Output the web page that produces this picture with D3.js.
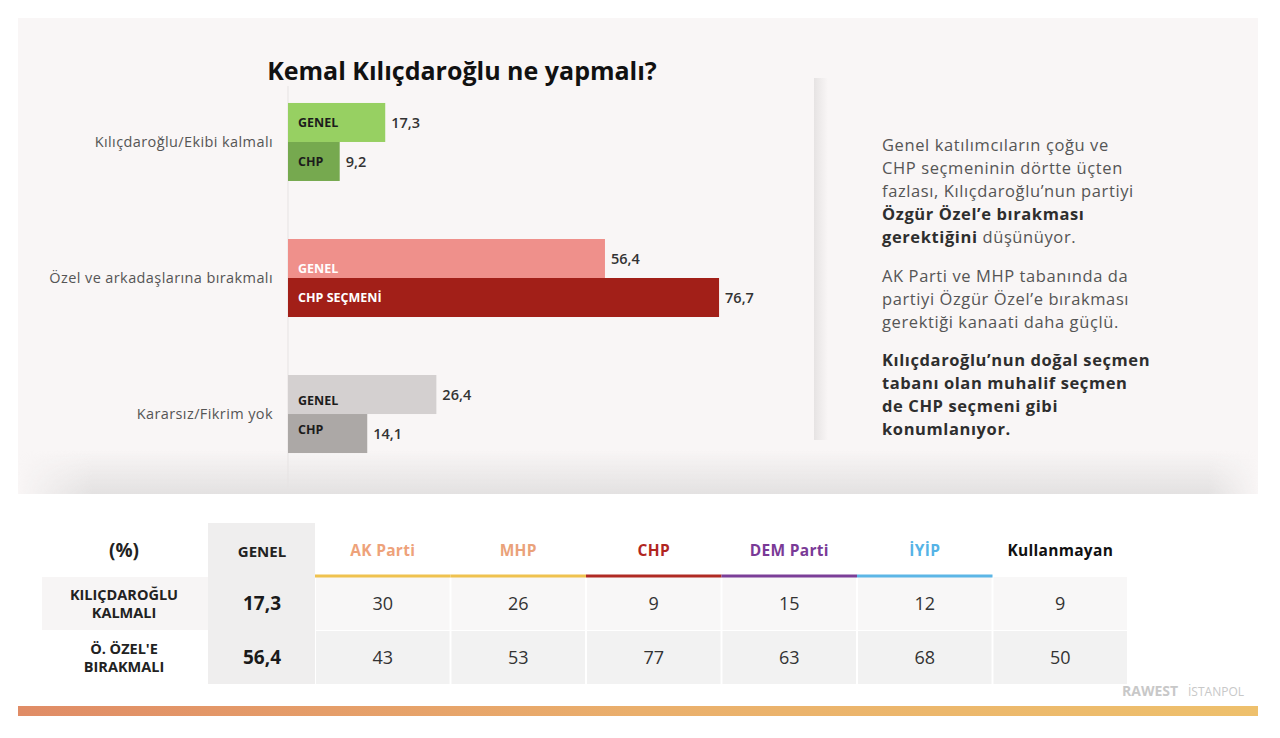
<!DOCTYPE html>
<html>
<head>
    <meta charset="utf-8">
    <title>Kemal Kılıçdaroğlu ne yapmalı?</title>
    <script src="https://d3js.org/d3.v7.min.js"></script>
    <style>
        body { margin: 0; background: #ffffff; }
        svg { display: block; font-family: "Open Sans", "Lato", sans-serif; }
    </style>
</head>
<body>
    <svg width="1280" height="738"></svg>
    <script>
        // bar chart data
        const categories = ["Kılıçdaroğlu/Ekibi kalmalı", "Özel ve arkadaşlarına bırakmalı", "Kararsız/Fikrim yok"];
        const genelValues = [17.3, 56.4, 26.4];
        const chpValues = [9.2, 76.7, 14.1];
        const chpLabels = ["CHP", "CHP SEÇMENİ", "CHP"];

        // table data
        const parties = ["AK Parti", "MHP", "CHP", "DEM Parti", "İYİP", "Kullanmayan"];
        const rowLabels = [["KILIÇDAROĞLU", "KALMALI"], ["Ö. ÖZEL'E", "BIRAKMALI"]];
        const genelColumn = [17.3, 56.4];
        const kalmaliValues = [30, 26, 9, 15, 12, 9];
        const birakmaliValues = [43, 53, 77, 63, 68, 50];

        const fmt = v => String(v).replace(".", ",");

        const svg = d3.select("svg");
        const defs = svg.append("defs");

        // panel background + soft shadows
        svg.append("rect")
            .attr("x", 18).attr("y", 18)
            .attr("width", 1240).attr("height", 476)
            .attr("fill", "#f9f6f6");

        const bottomShade = defs.append("linearGradient")
            .attr("id", "bottomShade").attr("x1", 0).attr("y1", 0).attr("x2", 0).attr("y2", 1);
        bottomShade.append("stop").attr("offset", 0).attr("stop-color", "#e3e1e1").attr("stop-opacity", 0);
        bottomShade.append("stop").attr("offset", 1).attr("stop-color", "#e3e1e1").attr("stop-opacity", 1);
        const edgeFade = defs.append("linearGradient").attr("id", "edgeFade");
        edgeFade.append("stop").attr("offset", 0).attr("stop-color", "#fff").attr("stop-opacity", 0);
        edgeFade.append("stop").attr("offset", 0.06).attr("stop-color", "#fff").attr("stop-opacity", 1);
        edgeFade.append("stop").attr("offset", 0.96).attr("stop-color", "#fff").attr("stop-opacity", 1);
        edgeFade.append("stop").attr("offset", 1).attr("stop-color", "#fff").attr("stop-opacity", 0);
        defs.append("mask").attr("id", "edgeMask")
            .append("rect")
            .attr("x", 18).attr("y", 440).attr("width", 1240).attr("height", 60)
            .attr("fill", "url(#edgeFade)");
        svg.append("rect")
            .attr("x", 18).attr("y", 450)
            .attr("width", 1240).attr("height", 44)
            .attr("fill", "url(#bottomShade)")
            .attr("mask", "url(#edgeMask)");

        const sideShade = defs.append("linearGradient")
            .attr("id", "sideShade").attr("x1", 0).attr("y1", 0).attr("x2", 1).attr("y2", 0);
        sideShade.append("stop").attr("offset", 0).attr("stop-color", "#e6e3e3").attr("stop-opacity", 1);
        sideShade.append("stop").attr("offset", 1).attr("stop-color", "#e6e3e3").attr("stop-opacity", 0);
        svg.append("rect")
            .attr("x", 814).attr("y", 78)
            .attr("width", 14).attr("height", 362)
            .attr("fill", "url(#sideShade)");

        // title
        svg.append("text")
            .attr("x", 462).attr("y", 80)
            .attr("text-anchor", "middle")
            .attr("font-size", 25).attr("font-weight", 700)
            .attr("fill", "#111")
            .text("Kemal Kılıçdaroğlu ne yapmalı?");

        // scales
        const x = d3.scaleLinear().domain([0, 80]).range([288, 288 + 80 * 5.62]);
        const y = d3.scaleBand().domain(categories).range([74, 482])
            .paddingInner(0.4265).paddingOuter(0.213);
        const sub = d3.scaleBand().domain(["genel", "chp"]).range([0, y.bandwidth()]);

        const genelColors = ["#97d062", "#ef908b", "#d4d0d0"];
        const chpColors = ["#76a94f", "#a21f18", "#aca8a6"];
        const innerColors = ["#1c1c1c", "#ffffff", "#1c1c1c"];
        // where the small label sits inside each bar (shift from bar centre)
        const labelShift = [[0, 0], [10, 0], [6, -4]];

        // baseline
        svg.append("line")
            .attr("x1", x(0)).attr("x2", x(0))
            .attr("y1", 86).attr("y2", 490)
            .attr("stroke", "#e6e3e3").attr("stroke-width", 1);

        const rows = categories.map((c, i) => ({
            cat: c,
            bars: [
                { key: "genel", value: genelValues[i], color: genelColors[i], label: "GENEL", txt: innerColors[i], shift: labelShift[i][0] },
                { key: "chp", value: chpValues[i], color: chpColors[i], label: chpLabels[i], txt: innerColors[i], shift: labelShift[i][1] }
            ]
        }));

        const group = svg.selectAll(".grp").data(rows).join("g")
            .attr("class", "grp")
            .attr("transform", d => `translate(0,${y(d.cat)})`);

        group.append("text")
            .attr("x", 273)
            .attr("y", y.bandwidth() / 2)
            .attr("dy", "0.35em")
            .attr("text-anchor", "end")
            .attr("font-size", 14.5)
            .style("letter-spacing", "0.4px")
            .attr("fill", "#555")
            .text(d => d.cat);

        const bar = group.selectAll(".bar").data(d => d.bars).join("g").attr("class", "bar");

        bar.append("rect")
            .attr("x", x(0))
            .attr("y", d => sub(d.key))
            .attr("width", d => x(d.value) - x(0))
            .attr("height", sub.bandwidth())
            .attr("fill", d => d.color);

        bar.append("text")
            .attr("x", x(0) + 10)
            .attr("y", d => sub(d.key) + sub.bandwidth() / 2 + d.shift)
            .attr("dy", "0.35em")
            .attr("font-size", 12.5).attr("font-weight", 700)
            .attr("fill", d => d.txt)
            .text(d => d.label);

        bar.append("text")
            .attr("x", d => x(d.value) + 6)
            .attr("y", d => sub(d.key) + sub.bandwidth() / 2)
            .attr("dy", "0.35em")
            .attr("font-size", 14.5).attr("font-weight", 600)
            .attr("fill", "#333")
            .text(d => fmt(d.value));

        // commentary
        const notes = [
            { y: 151, parts: [["Genel katılımcıların çoğu ve", 400]] },
            { y: 174, parts: [["CHP seçmeninin dörtte üçten", 400]] },
            { y: 197, parts: [["fazlası, Kılıçdaroğlu’nun partiyi", 400]] },
            { y: 220, parts: [["Özgür Özel’e bırakması", 700]] },
            { y: 243, parts: [["gerektiğini", 700], [" düşünüyor.", 400]] },
            { y: 282, parts: [["AK Parti ve MHP tabanında da", 400]] },
            { y: 305, parts: [["partiyi Özgür Özel’e bırakması", 400]] },
            { y: 328, parts: [["gerektiği kanaati daha güçlü.", 400]] },
            { y: 366, parts: [["Kılıçdaroğlu’nun doğal seçmen", 700]] },
            { y: 389, parts: [["tabanı olan muhalif seçmen", 700]] },
            { y: 412, parts: [["de CHP seçmeni gibi", 700]] },
            { y: 435, parts: [["konumlanıyor.", 700]] }
        ];
        const noteText = svg.selectAll(".note").data(notes).join("text")
            .attr("class", "note")
            .attr("x", 882).attr("y", d => d.y)
            .attr("font-size", 16.5)
            .style("letter-spacing", "0.6px")
            .attr("fill", "#3a3a3a");
        noteText.selectAll("tspan").data(d => d.parts).join("tspan")
            .attr("font-weight", d => d[1])
            .attr("fill", d => d[1] === 700 ? "#2e2e2e" : "#555")
            .text(d => d[0]);

        // table
        const col = d3.scaleBand().domain(parties).range([315, 1128]);
        const partyColors = ["#eea27a", "#eaa27a", "#b1261f", "#7a3a97", "#55b3e6", "#111111"];
        const lineColors = ["#efc24f", "#efc24f", "#b02a24", "#7b3f98", "#5cb6e6", null];
        const rowY = [577, 631];
        const rowH = 53;

        // GENEL column background
        svg.append("rect")
            .attr("x", 208).attr("y", 523)
            .attr("width", 107).attr("height", 161)
            .attr("fill", "#efeeee");

        // row label backgrounds
        svg.append("rect")
            .attr("x", 42).attr("y", rowY[0])
            .attr("width", 166).attr("height", rowH)
            .attr("fill", "#f7f5f5");

        // data cell backgrounds
        [kalmaliValues, birakmaliValues].forEach((vals, r) => {
            svg.selectAll(".cell" + r).data(parties).join("rect")
                .attr("class", "cell" + r)
                .attr("x", d => col(d) + 1)
                .attr("y", rowY[r])
                .attr("width", col.bandwidth() - 2)
                .attr("height", rowH)
                .attr("fill", r === 0 ? "#f8f7f7" : "#f2f2f2");
        });

        svg.append("text")
            .attr("x", 124).attr("y", 557)
            .attr("text-anchor", "middle")
            .attr("font-size", 19).attr("font-weight", 700)
            .attr("fill", "#222")
            .text("(%)");

        svg.append("text")
            .attr("x", 262).attr("y", 557)
            .attr("text-anchor", "middle")
            .attr("font-size", 15).attr("font-weight", 700)
            .attr("fill", "#222")
            .text("GENEL");

        svg.selectAll(".phead").data(parties).join("text")
            .attr("class", "phead")
            .attr("x", d => col(d) + col.bandwidth() / 2)
            .attr("y", 556)
            .attr("text-anchor", "middle")
            .attr("font-size", 15.5).attr("font-weight", 700)
            .style("letter-spacing", "0.3px")
            .attr("fill", (d, i) => partyColors[i])
            .text(d => d);

        svg.selectAll(".pline").data(parties.filter((d, i) => lineColors[i])).join("line")
            .attr("class", "pline")
            .attr("x1", d => col(d)).attr("x2", d => col(d) + col.bandwidth())
            .attr("y1", 576).attr("y2", 576)
            .attr("stroke", d => lineColors[parties.indexOf(d)])
            .attr("stroke-width", 3);

        rowLabels.forEach((lines, r) => {
            const t = svg.append("text")
                .attr("text-anchor", "middle")
                .attr("font-size", 14.5).attr("font-weight", 700)
                .attr("fill", "#222");
            lines.forEach((l, k) => {
                t.append("tspan")
                    .attr("x", 124)
                    .attr("y", rowY[r] + 23 + k * 18)
                    .text(l);
            });
        });

        svg.selectAll(".gval").data(genelColumn).join("text")
            .attr("class", "gval")
            .attr("x", 262)
            .attr("y", (d, i) => rowY[i] + rowH / 2)
            .attr("dy", "0.35em")
            .attr("text-anchor", "middle")
            .attr("font-size", 19).attr("font-weight", 700)
            .attr("fill", "#1a1a1a")
            .text(d => fmt(d));

        [kalmaliValues, birakmaliValues].forEach((vals, r) => {
            svg.selectAll(".val" + r).data(vals).join("text")
                .attr("class", "val" + r)
                .attr("x", (d, i) => col(parties[i]) + col.bandwidth() / 2)
                .attr("y", rowY[r] + rowH / 2)
                .attr("dy", "0.35em")
                .attr("text-anchor", "middle")
                .attr("font-size", 18)
                .attr("fill", "#333")
                .text(d => d);
        });

        // logos (faint)
        svg.append("text")
            .attr("x", 1122).attr("y", 696)
            .attr("font-size", 14).attr("font-weight", 700)
            .attr("fill", "#c8c8c8")
            .text("RAWEST");
        svg.append("text")
            .attr("x", 1188).attr("y", 696)
            .attr("font-size", 12)
            .attr("fill", "#c8c8c8")
            .text("İSTANPOL");

        // bottom gradient strip
        const strip = defs.append("linearGradient").attr("id", "strip");
        strip.append("stop").attr("offset", 0).attr("stop-color", "#e08c66");
        strip.append("stop").attr("offset", 0.5).attr("stop-color", "#eaaf6c");
        strip.append("stop").attr("offset", 1).attr("stop-color", "#eec06c");
        svg.append("rect")
            .attr("x", 18).attr("y", 706)
            .attr("width", 1240).attr("height", 10)
            .attr("fill", "url(#strip)");
    </script>
</body>
</html>
